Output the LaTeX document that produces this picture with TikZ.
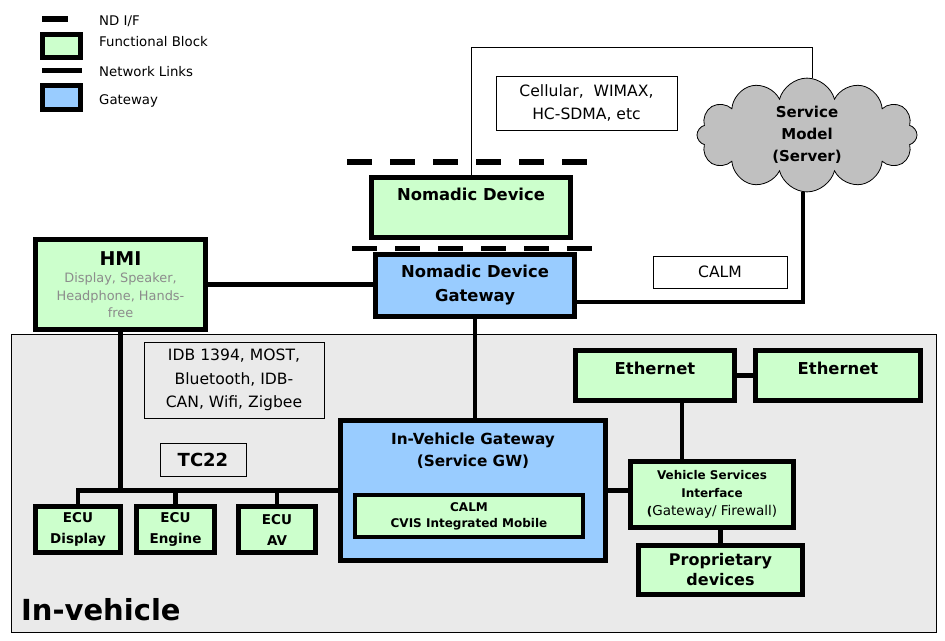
\documentclass[tikz,border=0pt]{standalone}
\usepackage{fontspec}
\setmainfont{DejaVu Sans}
\usetikzlibrary{positioning,shapes.symbols}

\definecolor{fbgreen}{HTML}{CCFFCC}
\definecolor{gwblue}{HTML}{99CCFF}
\definecolor{vehgray}{HTML}{EAEAEA}
\definecolor{cloudgray}{HTML}{C0C0C0}
\definecolor{hmigray}{HTML}{8C8C8C}

\tikzset{
  block/.style={draw, line width=4.5pt, inner sep=0pt, align=center,
    font=\bfseries\fontsize{16.4}{24}\selectfont},
  func/.style={block, fill=fbgreen},
  gway/.style={block, fill=gwblue},
  ecu/.style={func, minimum height=46pt, font=\bfseries\fontsize{13.5}{21}\selectfont},
  tag/.style={draw, line width=0.8pt, inner sep=0pt, align=center,
    font=\fontsize{15.6}{23.5}\selectfont},
  caption/.style={inner sep=0pt, align=center},
  title/.style={caption, font=\bfseries\fontsize{16.4}{22}\selectfont},
  legend/.style={caption, anchor=base west, font=\fontsize{13.3}{16}\selectfont},
  link/.style={line width=4.5pt},
  wire/.style={line width=0.8pt},
  ndif/.style={line width=5.5pt, dash pattern=on 25pt off 18pt},
}

\begin{document}
\begin{tikzpicture}[x=1pt, y=-1pt]
  \useasboundingbox (0,0) rectangle (945,640);
  \fill[white] (0,0) rectangle (945,640);

  % In-vehicle area
  \draw[wire, fill=vehgray] (11,334) rectangle (936,632);
  \node[caption, anchor=base west, font=\bfseries\fontsize{29}{29}\selectfont] (inveh) at (21,620) {In-vehicle};

  % Legend
  \draw[line width=6pt] (42,18.5) -- (68,18.5);
  \node[legend] (lndif) at (99,25) {ND I/F};
  \node[func, minimum width=38pt, minimum height=23pt] (lfunc) at (61.5,46) {};
  \node[legend] (lfunctxt) at (99,46.5) {Functional Block};
  \draw[line width=4.5pt] (42,70.5) -- (82,70.5);
  \node[legend] (lnet) at (99,76.5) {Network Links};
  \node[gway, minimum width=38pt, minimum height=24pt] (lgw) at (61.5,97.5) {};
  \node[legend] (lgwtxt) at (99,104) {Gateway};

  % Define nodes
  \node[tag, fill=white, minimum width=181pt, minimum height=54pt] (cell) at (586.5,103) {Cellular,\ \ WIMAX,\\HC-SDMA, etc};
  \node[cloud, draw, wire, fill=cloudgray, cloud puffs=12, aspect=2.2, inner sep=0pt,
    minimum width=220pt, minimum height=100pt, align=center,
    font=\bfseries\fontsize{15}{22}\selectfont] (server) at (807,135) {Service\\Model\\(Server)};
  \node[func, minimum width=199pt, minimum height=60pt] (nd) at (471,207.5) {};
  \node[title, below=13pt of nd.north] (ndtxt) {Nomadic Device};
  \node[gway, minimum width=199pt, minimum height=62pt] (ndg) at (475,285.5) {Nomadic Device\\Gateway};
  \node[tag, fill=white, minimum width=134pt, minimum height=32pt] (calm) at (720,272) {CALM};
  \node[func, minimum width=170pt, minimum height=90pt, text=hmigray,
    font=\fontsize{12.9}{17.5}\selectfont] (hmi) at (120.5,284.5)
    {\textcolor{black}{\bfseries\fontsize{19}{19}\selectfont HMI}\\Display, Speaker,\\Headphone, Hands-\\free};
  \node[tag, minimum width=180pt, minimum height=76pt] (idb) at (234,380) {IDB 1394, MOST,\\Bluetooth, IDB-\\CAN, Wifi, Zigbee};
  \node[tag, minimum width=86pt, minimum height=33pt, font=\bfseries\fontsize{18}{18}\selectfont] (tc) at (203,459.5) {TC22};
  \node[ecu, minimum width=85pt] (ecudisp) at (78,529.5) {ECU\\Display};
  \node[ecu, minimum width=78pt] (ecueng) at (175.5,529.5) {ECU\\Engine};
  \node[ecu, minimum width=77pt] (ecuav) at (277,529.5) {ECU\\AV};
  \node[gway, minimum width=265pt, minimum height=140pt] (ivg) at (473,490.5) {};
  \node[caption, font=\bfseries\fontsize{15.3}{22}\selectfont, below=14pt of ivg.north] (ivgtxt) {In-Vehicle Gateway\\(Service GW)};
  \node[func, minimum width=228pt, minimum height=42pt, font=\bfseries\fontsize{12}{16}\selectfont] (cvis) at (469,516) {CALM\\CVIS Integrated Mobile};
  \node[func, minimum width=159pt, minimum height=50pt] (eth1) at (655,375.5) {};
  \node[title, below=14pt of eth1.north] (eth1txt) {Ethernet};
  \node[func, minimum width=165pt, minimum height=50pt] (eth2) at (838,375.5) {};
  \node[title, below=14pt of eth2.north] (eth2txt) {Ethernet};
  \node[func, minimum width=163pt, minimum height=66pt, font=\bfseries\fontsize{12}{18}\selectfont] (vsi) at (712,494.5)
    {Vehicle Services\\Interface\\(\mdseries\fontsize{13.5}{18}\selectfont Gateway/ Firewall)};
  \node[func, minimum width=164pt, minimum height=49pt, font=\bfseries\fontsize{16}{20}\selectfont] (prop) at (720.5,570) {Proprietary\\devices};

  % ND interfaces
  \draw[ndif] (347,162) -- (590,162);
  \draw[ndif] (352,248.5) -- (595,248.5);

  % Connect the nodes
  \coordinate (wanup) at (812,47);
  \coordinate (srvdown) at (803,302);
  \draw[wire] (nd.north) |- (wanup) -- (wanup |- server.north);
  \draw[link] (server.south -| srvdown) -- (srvdown) -- (srvdown -| ndg.east);
  \draw[link] (hmi.east) -- (hmi.east -| ndg.west);
  \draw[link] (ndg.south) -- (ndg.south |- ivg.north);
  \draw[link] (ecudisp.north) |- (ivg.west);
  \draw[link] (hmi.south) -- (hmi.south |- ivg.west);
  \draw[link] (ecueng.north) -- (ecueng.north |- ivg.west);
  \draw[link] (ecuav.north) -- (ecuav.north |- ivg.west);
  \draw[link] (ivg.east) -- (ivg.east -| vsi.west);
  \draw[link] (eth1.east) -- (eth2.west);
  \draw[link] ([xshift=-30pt]vsi.north) -- ([xshift=-30pt]vsi.north |- eth1.south);
  \draw[link] (vsi.south -| prop.north) -- (prop.north);
\end{tikzpicture}
\end{document}
